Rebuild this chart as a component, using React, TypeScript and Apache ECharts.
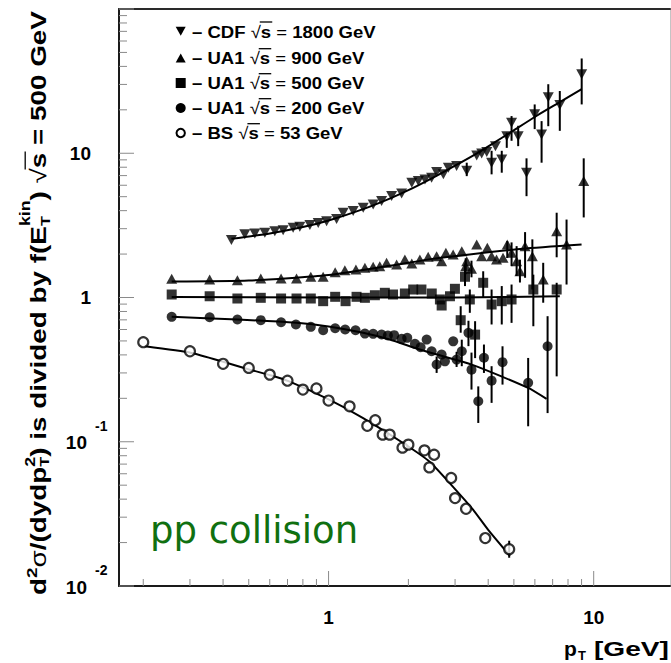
import React, { useEffect, useRef } from 'react';
import * as echarts from 'echarts';

const W = 671;
const H = 663;
const FONT = '"Liberation Sans", Arial, Helvetica, sans-serif';
const X_MIN = 0.162;
const X_MAX = 19.4;
const Y_MIN = 0.01;
const Y_MAX = 100;

// ---- CDF sqrt(s)=1800 GeV (down triangles)
const cdfX = [0.43, 0.483, 0.527, 0.575, 0.627, 0.674, 0.735, 0.779, 0.85, 0.914, 0.983, 1.072, 1.135, 1.238, 1.351, 1.473, 1.585, 1.729, 1.886, 2.06, 2.18, 2.31, 2.447, 2.556, 2.71, 2.83, 3.04, 3.32, 3.62, 3.78, 3.95, 4.12, 4.26, 4.5, 4.7, 4.9, 5.19, 5.58, 5.99, 6.36, 6.74, 7.45, 9.01];
const cdfY = [2.5, 2.74, 2.78, 2.81, 2.88, 2.93, 3.04, 3.09, 3.18, 3.28, 3.38, 3.5, 3.87, 3.97, 4.19, 4.42, 4.66, 5.05, 5.27, 6.25, 6.41, 6.58, 6.77, 7.4, 7.14, 7.94, 8.15, 7.55, 9.66, 9.98, 10.2, 8.6, 11.2, 9.06, 13.1, 16.3, 13.1, 7.33, 18.6, 13.5, 24.4, 21.6, 35.3];
const cdfErrX = [3.32, 4.12, 4.5, 4.7, 4.9, 5.19, 5.58, 5.99, 6.36, 6.74, 7.45, 9.01];
const cdfErrLo = [6.94, 7.14, 7.33, 10.9, 12.2, 11.2, 5.04, 14.7, 8.6, 15.4, 14.3, 21.8];
const cdfErrHi = [8.6, 10.4, 10.4, 13.9, 18.1, 15.5, 9.22, 21.8, 16.7, 30.1, 27.0, 45.4];
const cdfFitX = [0.43, 0.6, 0.8, 1.0, 1.35, 1.7, 2.0, 2.41, 3.0, 3.6, 4.2, 4.84, 6.1, 7.45, 9.01];
const cdfFitY = [2.55, 2.78, 3.08, 3.42, 4.1, 4.85, 5.55, 6.6, 8.2, 9.9, 11.8, 13.9, 18.2, 22.6, 27.8];

// ---- UA1 sqrt(s)=900 GeV (up triangles)
const u9X = [0.256, 0.356, 0.453, 0.555, 0.662, 0.757, 0.857, 0.954, 1.059, 1.152, 1.268, 1.371, 1.473, 1.56, 1.655, 1.806, 1.94, 2.06, 2.21, 2.375, 2.556, 2.67, 2.77, 2.95, 3.18, 3.29, 3.32, 3.46, 3.62, 3.78, 3.97, 4.12, 4.3, 4.55, 4.72, 4.9, 5.12, 5.27, 5.51, 5.87, 6.45, 7.25, 7.9, 9.17];
const u9Y = [1.349, 1.333, 1.318, 1.355, 1.355, 1.355, 1.392, 1.392, 1.498, 1.546, 1.564, 1.607, 1.632, 1.649, 1.74, 1.694, 1.834, 1.72, 1.834, 1.916, 1.935, 1.787, 2.04, 1.988, 2.095, 1.649, 1.787, 1.58, 2.33, 1.935, 2.21, 1.935, 1.834, 1.885, 2.33, 2.04, 1.787, 1.522, 2.27, 1.935, 1.333, 2.88, 2.33, 6.41];
const u9ErrX = [3.29, 3.46, 4.72, 4.9, 5.12, 5.27, 5.51, 5.87, 6.45, 7.25, 7.9, 9.17];
const u9ErrLo = [1.45, 1.38, 1.88, 1.65, 1.41, 1.27, 1.37, 1.136, 0.92, 1.9, 1.23, 3.59];
const u9ErrHi = [1.87, 1.8, 2.46, 2.41, 2.27, 1.83, 2.84, 2.53, 1.74, 3.87, 3.47, 9.22];
const u9FitX = [0.256, 0.5, 1.0, 1.7, 2.5, 3.4, 5.4, 9.0];
const u9FitY = [1.29, 1.31, 1.43, 1.66, 1.86, 1.99, 2.18, 2.33];

// ---- UA1 sqrt(s)=500 GeV (squares)
const u5X = [0.256, 0.356, 0.453, 0.555, 0.662, 0.757, 0.857, 0.954, 1.059, 1.159, 1.275, 1.371, 1.495, 1.63, 1.75, 1.94, 2.085, 2.24, 2.45, 2.63, 2.67, 2.87, 2.996, 3.15, 3.27, 3.41, 3.57, 3.83, 4.12, 4.5, 4.9, 5.92, 7.25];
const u5Y = [1.049, 1.02, 0.984, 0.995, 0.984, 0.984, 0.984, 0.943, 1.011, 0.943, 1.011, 0.995, 1.037, 1.078, 1.049, 1.066, 1.136, 1.136, 1.066, 0.969, 0.88, 1.02, 1.149, 0.696, 1.392, 0.969, 0.553, 1.265, 0.894, 0.943, 0.969, 1.136, 1.136];
const u5ErrX = [3.15, 3.27, 3.41, 3.57, 3.83, 4.12, 4.5, 4.9, 5.92, 7.25];
const u5ErrLo = [0.57, 1.2, 0.783, 0.38, 0.995, 0.65, 0.65, 0.667, 0.632, 0.284];
const u5ErrHi = [0.87, 1.69, 1.136, 0.685, 1.52, 1.136, 1.2, 1.23, 1.44, 1.265];
const u5FitX = [0.256, 1.0, 3.0, 7.45];
const u5FitY = [1.01, 1.0, 1.0, 1.02];

// ---- UA1 sqrt(s)=200 GeV (filled circles)
const u2X = [0.256, 0.356, 0.453, 0.555, 0.662, 0.753, 0.857, 0.954, 1.059, 1.155, 1.264, 1.371, 1.473, 1.585, 1.674, 1.768, 1.886, 1.98, 2.117, 2.224, 2.344, 2.447, 2.556, 2.669, 2.747, 2.952, 3.04, 3.18, 3.37, 3.46, 3.67, 3.855, 4.12, 4.53, 5.66, 6.7];
const u2Y = [0.734, 0.73, 0.704, 0.696, 0.674, 0.65, 0.626, 0.593, 0.612, 0.6, 0.593, 0.562, 0.56, 0.554, 0.545, 0.548, 0.517, 0.525, 0.477, 0.452, 0.511, 0.424, 0.343, 0.402, 0.361, 0.497, 0.371, 0.424, 0.569, 0.316, 0.191, 0.382, 0.265, 0.356, 0.256, 0.459];
const u2ErrX = [2.556, 3.04, 3.18, 3.37, 3.46, 3.67, 3.855, 4.12, 4.53, 5.66, 6.7];
const u2ErrLo = [0.3, 0.33, 0.334, 0.46, 0.23, 0.135, 0.3, 0.186, 0.249, 0.128, 0.158];
const u2ErrHi = [0.39, 0.42, 0.51, 0.69, 0.415, 0.242, 0.472, 0.334, 0.459, 0.381, 0.742];
const u2FitX = [0.256, 0.453, 0.757, 1.0, 1.35, 1.7, 2.21, 3.51, 5.66, 6.64];
const u2FitY = [0.734, 0.704, 0.667, 0.629, 0.569, 0.511, 0.436, 0.34, 0.236, 0.198];

// ---- BS sqrt(s)=53 GeV (open circles)
const bsX = [0.2, 0.3, 0.4, 0.5, 0.6, 0.7, 0.8, 0.9, 1.0, 1.2, 1.4, 1.5, 1.6, 1.7, 1.9, 2.0, 2.3, 2.5, 2.4, 2.9, 3.0, 3.3, 3.9, 4.8];
const bsY = [0.49, 0.424, 0.347, 0.325, 0.292, 0.265, 0.23, 0.234, 0.193, 0.176, 0.129, 0.141, 0.112, 0.112, 0.091, 0.0955, 0.0872, 0.0813, 0.0664, 0.0561, 0.0407, 0.0343, 0.0215, 0.018];
const bsErrX = [4.8];
const bsErrLo = [0.0157];
const bsErrHi = [0.0206];
const bsFitX = [0.203, 0.304, 0.406, 0.505, 0.609, 0.71, 1.005, 1.35, 1.91, 2.41, 3.0, 3.5, 4.0, 4.83];
const bsFitY = [0.459, 0.413, 0.356, 0.316, 0.288, 0.262, 0.196, 0.146, 0.098, 0.0725, 0.047, 0.034, 0.0245, 0.0162];

// ---- axis ticks and labels
const xMajorTicks = [1, 10];
const xMinorTicks = [0.2, 0.3, 0.4, 0.5, 0.6, 0.7, 0.8, 0.9, 2, 3, 4, 5, 6, 7, 8, 9];
const yMajorTicks = [0.01, 0.1, 1, 10, 100];
const yMinorTicks = [0.02, 0.03, 0.04, 0.05, 0.06, 0.07, 0.08, 0.09, 0.2, 0.3, 0.4, 0.5, 0.6, 0.7, 0.8, 0.9, 2, 3, 4, 5, 6, 7, 8, 9, 20, 30, 40, 50, 60, 70, 80, 90];
const xLabelValues = [1, 10];
const xLabelTexts = ['1', '10'];
const yLabelValues = [10, 1, 0.1, 0.01];
const yLabelBase = ['10', '1', '10', '10'];
const yLabelExp = ['', '', '-1', '-2'];

// ---- legend
const legendNames = ['CDF', 'UA1', 'UA1', 'UA1', 'BS'];
const legendEnergies = ['1800', '900', '500', '200', '53'];
const legendSymbols = ['down', 'up', 'square', 'dot', 'open'];

let ctx: CanvasRenderingContext2D | null = null;
function measure(t: string, weight: string, size: number, family: string): number {
  if (!ctx) ctx = document.createElement('canvas').getContext('2d');
  ctx!.font = `${weight} ${size}px ${family}`;
  return ctx!.measureText(t).width;
}

function txt(t: string, x: number, y: number, size: number, weight: string, align = 'left', family = FONT, fill = '#000') {
  return {
    type: 'text',
    x,
    y,
    style: {
      text: t,
      fill,
      fontSize: size,
      fontWeight: weight,
      fontFamily: family,
      align,
      textAlign: align,
      verticalAlign: 'middle',
      textVerticalAlign: 'middle',
    },
  };
}

type Seg = { t: string; size: number; weight?: string; shift?: number; stack?: boolean; overline?: boolean };

function layout(segs: Seg[], x0: number, y0: number) {
  const els: any[] = [];
  let x = x0;
  let segStart = x0;
  let segW = 0;
  for (const s of segs) {
    const weight = s.weight ?? 'bold';
    const w = measure(s.t, weight, s.size, FONT);
    let sx: number;
    if (s.stack) {
      sx = segStart;
      const adv = Math.max(segW, w);
      x = segStart + adv;
      segW = adv;
    } else {
      sx = x;
      segStart = x;
      segW = w;
      x += w;
    }
    els.push(txt(s.t, sx, y0 + (s.shift ?? 0) - 0.31 * s.size, s.size, weight));
    if (s.overline) {
      const oy = y0 - 0.9 * s.size;
      els.push({ type: 'line', shape: { x1: sx - 1, y1: oy, x2: sx + w + 1, y2: oy }, style: { stroke: '#000', lineWidth: 1.3 } });
    }
  }
  return { els, end: x };
}

const pairs = (xs: number[], ys: number[]) => xs.map((x, i) => [x, ys[i]]);
const triples = (xs: number[], lo: number[], hi: number[]) => xs.map((x, i) => [x, lo[i], hi[i]]);

function errSeries(xs: number[], lo: number[], hi: number[]) {
  return {
    type: 'custom',
    coordinateSystem: 'cartesian2d',
    silent: true,
    clip: false,
    z: 4,
    encode: { x: 0, y: [1, 2] },
    data: triples(xs, lo, hi),
    renderItem: (_p: any, api: any) => {
      const a = api.coord([api.value(0), api.value(1)]);
      const b = api.coord([api.value(0), api.value(2)]);
      return { type: 'line', shape: { x1: a[0], y1: a[1], x2: b[0], y2: b[1] }, style: { stroke: '#000', lineWidth: 2 } };
    },
  };
}

function fitSeries(xs: number[], ys: number[]) {
  return {
    type: 'line',
    data: pairs(xs, ys),
    symbol: 'none',
    showSymbol: false,
    smooth: 0.2,
    silent: true,
    z: 3,
    lineStyle: { color: '#000', width: 2 },
  };
}

function tickSeries(vals: number[], axis: 'x' | 'y', len: number) {
  return {
    type: 'custom',
    coordinateSystem: 'cartesian2d',
    silent: true,
    clip: false,
    z: 6,
    data: vals.map((v) => (axis === 'x' ? [v, Y_MIN] : [X_MIN, v])),
    renderItem: (_p: any, api: any) => {
      const p = api.coord([api.value(0), api.value(1)]);
      const shape = axis === 'x'
        ? { x1: p[0], y1: p[1], x2: p[0], y2: p[1] - len }
        : { x1: p[0], y1: p[1], x2: p[0] + len, y2: p[1] };
      return { type: 'line', shape, style: { stroke: '#8a8a8a', lineWidth: 1 } };
    },
  };
}

function buildOption() {
  // y-axis title, rotated and stretched along its length like the reference
  const titleSegs: Seg[] = [
    { t: 'd', size: 22 },
    { t: '2', size: 15, shift: -8 },
    { t: 'σ', size: 22, weight: 'normal' },
    { t: '/(dydp', size: 22 },
    { t: '2', size: 14, shift: -10 },
    { t: 'T', size: 13, shift: 4, stack: true },
    { t: ') is divided by f(E', size: 22 },
    { t: 'kin', size: 14, shift: -15 },
    { t: 'T', size: 13, shift: 5, stack: true },
    { t: ') ', size: 22 },
    { t: '√', size: 22, weight: 'normal' },
    { t: 's', size: 22, overline: true },
    { t: ' = 500 GeV', size: 22 },
  ];
  const title = layout(titleSegs, 0, 0);
  const titleScale = 584 / title.end;

  // legend (drawn as graphic)
  const rowY = [31.3, 58, 83, 108, 133];
  const legendEls: any[] = [];
  legendNames.forEach((name, i) => {
    const cy = rowY[i];
    const cx = 180.7;
    const sym = legendSymbols[i];
    if (sym === 'down') legendEls.push({ type: 'polygon', shape: { points: [[cx - 5, cy - 4.5], [cx + 5, cy - 4.5], [cx, cy + 4.5]] }, style: { fill: '#000' } });
    else if (sym === 'up') legendEls.push({ type: 'polygon', shape: { points: [[cx - 5, cy + 4.5], [cx + 5, cy + 4.5], [cx, cy - 4.5]] }, style: { fill: '#000' } });
    else if (sym === 'square') legendEls.push({ type: 'rect', shape: { x: cx - 5, y: cy - 5, width: 10, height: 10 }, style: { fill: '#000' } });
    else if (sym === 'dot') legendEls.push({ type: 'circle', shape: { cx, cy, r: 5 }, style: { fill: '#000' } });
    else legendEls.push({ type: 'circle', shape: { cx, cy, r: 4.2 }, style: { fill: '#fff', stroke: '#000', lineWidth: 2 } });
    const segs: Seg[] = [
      { t: '– ' + name + ' ', size: 17 },
      { t: '√', size: 17, weight: 'normal' },
      { t: 's', size: 17, overline: true },
      { t: ' = ', size: 17, weight: 'normal' },
      { t: legendEnergies[i] + ' GeV', size: 17 },
    ];
    legendEls.push({ type: 'group', x: 192, y: 0, scaleX: 1.09, children: layout(segs, 0, cy + 6).els });
  });

  const gevW = measure('[GeV]', 'bold', 21, FONT);

  const graphic: any[] = [
    { type: 'group', x: 45, y: 595, rotation: Math.PI / 2, scaleX: titleScale, silent: true, children: title.els },
    { type: 'group', silent: true, children: legendEls },
    txt('p', 564, 655.5 - 0.31 * 21, 21, 'bold'),
    txt('T', 578, 655, 13, 'bold'),
    { type: 'group', x: 594, y: 0, scaleX: 75 / gevW, silent: true, children: [txt('[GeV]', 0, 655.5 - 0.31 * 21, 21, 'bold')] },
    txt('pp collision', 150, 530, 37, 'normal', 'left', '"DejaVu Sans", sans-serif', '#107010'),
  ];

  const scatterBase = { type: 'scatter', silent: true, z: 5 };

  return {
    animation: false,
    backgroundColor: '#fff',
    grid: { left: 119, top: 9, width: 551, height: 577, show: false },
    xAxis: [
      {
        type: 'log', logBase: 10, min: X_MIN, max: X_MAX,
        axisLine: { show: true, lineStyle: { color: '#1a1a1a', width: 2 } },
        axisTick: { show: false }, axisLabel: { show: false }, splitLine: { show: false }, minorTick: { show: false },
      },
      {
        type: 'log', logBase: 10, min: X_MIN, max: X_MAX, position: 'top',
        axisLine: { show: true, lineStyle: { color: '#2a2a2a', width: 2 } },
        axisTick: { show: false }, axisLabel: { show: false }, splitLine: { show: false },
      },
    ],
    yAxis: [
      {
        type: 'log', logBase: 10, min: Y_MIN, max: Y_MAX,
        axisLine: { show: true, lineStyle: { color: '#1a1a1a', width: 2 } },
        axisTick: { show: false }, axisLabel: { show: false }, splitLine: { show: false },
      },
      {
        type: 'log', logBase: 10, min: Y_MIN, max: Y_MAX, position: 'right',
        axisLine: { show: true, lineStyle: { color: '#c4c4c4', width: 1 } },
        axisTick: { show: false }, axisLabel: { show: false }, splitLine: { show: false },
      },
    ],
    graphic,
    series: [
      tickSeries(xMajorTicks, 'x', 15),
      tickSeries(xMinorTicks, 'x', 7),
      tickSeries(yMajorTicks, 'y', 15),
      tickSeries(yMinorTicks, 'y', 8),
      {
        type: 'custom', coordinateSystem: 'cartesian2d', silent: true, clip: false, z: 6,
        data: xLabelValues.map((v) => [v, Y_MIN]),
        renderItem: (p: any, api: any) => {
          const c = api.coord([api.value(0), api.value(1)]);
          return txt(xLabelTexts[p.dataIndex], c[0], c[1] + 31, 19, 'bold', 'center');
        },
      },
      {
        type: 'custom', coordinateSystem: 'cartesian2d', silent: true, clip: false, z: 6,
        data: yLabelValues.map((v) => [X_MIN, v]),
        renderItem: (p: any, api: any) => {
          const c = api.coord([api.value(0), api.value(1)]);
          const i = p.dataIndex;
          if (!yLabelExp[i]) return txt(yLabelBase[i], c[0] - 28, c[1], 19, 'bold', 'right');
          return {
            type: 'group',
            children: [
              txt(yLabelBase[i], c[0] - 32, c[1] + 1, 19, 'bold', 'right'),
              txt(yLabelExp[i], c[0] - 24, c[1] - 16, 14, 'bold', 'left'),
            ],
          };
        },
      },
      fitSeries(cdfFitX, cdfFitY),
      fitSeries(u9FitX, u9FitY),
      fitSeries(u5FitX, u5FitY),
      fitSeries(u2FitX, u2FitY),
      fitSeries(bsFitX, bsFitY),
      errSeries(cdfErrX, cdfErrLo, cdfErrHi),
      errSeries(u9ErrX, u9ErrLo, u9ErrHi),
      errSeries(u5ErrX, u5ErrLo, u5ErrHi),
      errSeries(u2ErrX, u2ErrLo, u2ErrHi),
      errSeries(bsErrX, bsErrLo, bsErrHi),
      { ...scatterBase, name: 'CDF 1800', data: pairs(cdfX, cdfY), symbol: 'triangle', symbolRotate: 180, symbolSize: [11, 10], itemStyle: { color: '#000' } },
      { ...scatterBase, name: 'UA1 900', data: pairs(u9X, u9Y), symbol: 'triangle', symbolSize: [11, 10], itemStyle: { color: '#000' } },
      { ...scatterBase, name: 'UA1 500', data: pairs(u5X, u5Y), symbol: 'rect', symbolSize: 10, itemStyle: { color: '#000' } },
      { ...scatterBase, name: 'UA1 200', data: pairs(u2X, u2Y), symbol: 'circle', symbolSize: 10, itemStyle: { color: '#000' } },
      { ...scatterBase, name: 'BS 53', data: pairs(bsX, bsY), symbol: 'circle', symbolSize: 10, itemStyle: { color: '#fff', borderColor: '#000', borderWidth: 2.2 } },
    ],
  };
}

export default function App() {
  const ref = useRef<HTMLDivElement>(null);
  useEffect(() => {
    document.body.style.margin = '0';
    const chart = echarts.init(ref.current!, undefined, { renderer: 'svg' });
    chart.setOption(buildOption() as any);
    return () => chart.dispose();
  }, []);
  return <div ref={ref} style={{ width: W, height: H }} />;
}
